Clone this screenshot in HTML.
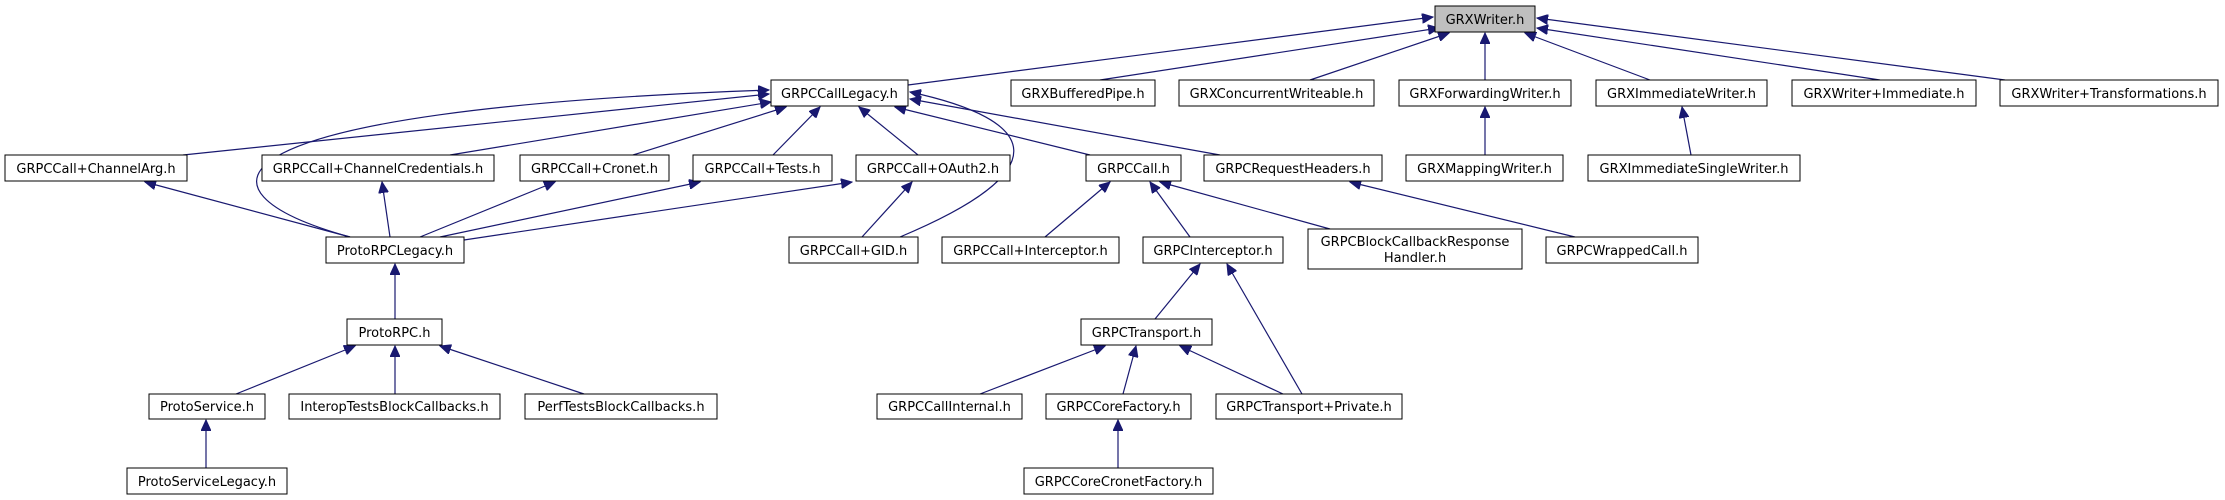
<!DOCTYPE html>
<html><head><meta charset="utf-8"><style>
html,body{margin:0;padding:0;background:#fff;}
svg{display:block;}
text{font-family:"DejaVu Sans","Liberation Sans",sans-serif;font-size:13px;fill:#000;text-anchor:middle;}
.n{fill:#fff;stroke:#000;stroke-width:1;}
.e{stroke:#191970;stroke-width:1.2;fill:none;}
</style></head><body>
<svg width="2225" height="500" viewBox="0 0 2225 500" xmlns="http://www.w3.org/2000/svg">
<defs><marker id="a" markerUnits="userSpaceOnUse" markerWidth="12" markerHeight="10" refX="11" refY="5" orient="auto"><path d="M0,0 L11,5 L0,10 z" fill="#191970" stroke="#191970"/></marker></defs>
<g marker-end="url(#a)">
<line class="e" x1="908" y1="85" x2="1433" y2="17"/>
<line class="e" x1="1100" y1="80" x2="1439" y2="28"/>
<line class="e" x1="1310" y1="80" x2="1449" y2="33"/>
<line class="e" x1="1485" y1="80" x2="1485" y2="33"/>
<line class="e" x1="1650" y1="80" x2="1525" y2="33"/>
<line class="e" x1="1880" y1="80" x2="1537" y2="28"/>
<line class="e" x1="2005" y1="80" x2="1537" y2="18"/>
<line class="e" x1="1485" y1="155" x2="1485" y2="107"/>
<line class="e" x1="1691" y1="155" x2="1682" y2="107"/>
<line class="e" x1="183" y1="155" x2="769" y2="94"/>
<line class="e" x1="450" y1="155" x2="771" y2="102"/>
<line class="e" x1="633" y1="155" x2="786" y2="107"/>
<line class="e" x1="773" y1="155" x2="820" y2="107"/>
<line class="e" x1="918" y1="155" x2="859" y2="107"/>
<line class="e" x1="1090" y1="155" x2="895" y2="107"/>
<line class="e" x1="1220" y1="155" x2="910" y2="99"/>
<path class="e" d="M350,237 C180,190 200,110 769,90"/>
<path class="e" d="M900,237 C1060,170 1040,120 910,92"/>
<line class="e" x1="350" y1="237" x2="145" y2="182"/>
<line class="e" x1="390" y1="237" x2="382" y2="182"/>
<line class="e" x1="420" y1="237" x2="555" y2="182"/>
<line class="e" x1="440" y1="237" x2="700" y2="182"/>
<line class="e" x1="464" y1="240" x2="852" y2="182"/>
<line class="e" x1="862" y1="237" x2="912" y2="182"/>
<line class="e" x1="1045" y1="237" x2="1110" y2="182"/>
<line class="e" x1="1190" y1="237" x2="1150" y2="182"/>
<line class="e" x1="1330" y1="229" x2="1160" y2="182"/>
<line class="e" x1="1575" y1="237" x2="1350" y2="182"/>
<line class="e" x1="1155" y1="319" x2="1200" y2="264"/>
<line class="e" x1="1302" y1="394" x2="1227" y2="264"/>
<line class="e" x1="980" y1="394" x2="1105" y2="346"/>
<line class="e" x1="1123" y1="394" x2="1136" y2="346"/>
<line class="e" x1="1283" y1="394" x2="1180" y2="346"/>
<line class="e" x1="1118" y1="468" x2="1118" y2="420"/>
<line class="e" x1="395" y1="319" x2="395" y2="264"/>
<line class="e" x1="236" y1="394" x2="355" y2="346"/>
<line class="e" x1="395" y1="394" x2="395" y2="346"/>
<line class="e" x1="584" y1="394" x2="440" y2="346"/>
<line class="e" x1="206" y1="468" x2="206" y2="420"/>
</g>
<rect x="1435" y="6" width="100" height="26" fill="#bfbfbf" stroke="#000"/><text x="1485" y="24">GRXWriter.h</text>
<rect class="n" x="771" y="80" width="137" height="26"/><text x="839.5" y="98">GRPCCallLegacy.h</text>
<rect class="n" x="1011" y="80" width="144" height="26"/><text x="1083" y="98">GRXBufferedPipe.h</text>
<rect class="n" x="1179" y="80" width="195" height="26"/><text x="1276.5" y="98">GRXConcurrentWriteable.h</text>
<rect class="n" x="1399" y="80" width="172" height="26"/><text x="1485" y="98">GRXForwardingWriter.h</text>
<rect class="n" x="1596" y="80" width="171" height="26"/><text x="1681.5" y="98">GRXImmediateWriter.h</text>
<rect class="n" x="1792" y="80" width="184" height="26"/><text x="1884" y="98">GRXWriter+Immediate.h</text>
<rect class="n" x="2000" y="80" width="218" height="26"/><text x="2109" y="98">GRXWriter+Transformations.h</text>
<rect class="n" x="5" y="155" width="182" height="26"/><text x="96" y="173">GRPCCall+ChannelArg.h</text>
<rect class="n" x="262" y="155" width="232" height="26"/><text x="378" y="173">GRPCCall+ChannelCredentials.h</text>
<rect class="n" x="520" y="155" width="149" height="26"/><text x="594.5" y="173">GRPCCall+Cronet.h</text>
<rect class="n" x="693" y="155" width="139" height="26"/><text x="762.5" y="173">GRPCCall+Tests.h</text>
<rect class="n" x="856" y="155" width="154" height="26"/><text x="933" y="173">GRPCCall+OAuth2.h</text>
<rect class="n" x="1086" y="155" width="95" height="26"/><text x="1133.5" y="173">GRPCCall.h</text>
<rect class="n" x="1204" y="155" width="178" height="26"/><text x="1293" y="173">GRPCRequestHeaders.h</text>
<rect class="n" x="1406" y="155" width="157" height="26"/><text x="1484.5" y="173">GRXMappingWriter.h</text>
<rect class="n" x="1588" y="155" width="212" height="26"/><text x="1694" y="173">GRXImmediateSingleWriter.h</text>
<rect class="n" x="326" y="237" width="138" height="26"/><text x="395" y="255">ProtoRPCLegacy.h</text>
<rect class="n" x="789" y="237" width="129" height="26"/><text x="853.5" y="255">GRPCCall+GID.h</text>
<rect class="n" x="942" y="237" width="177" height="26"/><text x="1030.5" y="255">GRPCCall+Interceptor.h</text>
<rect class="n" x="1143" y="237" width="140" height="26"/><text x="1213" y="255">GRPCInterceptor.h</text>
<rect class="n" x="1308" y="229" width="214" height="40"/><text x="1415" y="246">GRPCBlockCallbackResponse</text><text x="1415" y="262">Handler.h</text>
<rect class="n" x="1546" y="237" width="152" height="26"/><text x="1622" y="255">GRPCWrappedCall.h</text>
<rect class="n" x="347" y="319" width="95" height="26"/><text x="394.5" y="337">ProtoRPC.h</text>
<rect class="n" x="1081" y="319" width="131" height="26"/><text x="1146.5" y="337">GRPCTransport.h</text>
<rect class="n" x="149" y="394" width="116" height="25"/><text x="207" y="411">ProtoService.h</text>
<rect class="n" x="289" y="394" width="211" height="25"/><text x="394.5" y="411">InteropTestsBlockCallbacks.h</text>
<rect class="n" x="525" y="394" width="192" height="25"/><text x="621" y="411">PerfTestsBlockCallbacks.h</text>
<rect class="n" x="877" y="394" width="145" height="25"/><text x="949.5" y="411">GRPCCallInternal.h</text>
<rect class="n" x="1046" y="394" width="145" height="25"/><text x="1118.5" y="411">GRPCCoreFactory.h</text>
<rect class="n" x="1216" y="394" width="186" height="25"/><text x="1309" y="411">GRPCTransport+Private.h</text>
<rect class="n" x="127" y="468" width="160" height="26"/><text x="207" y="486">ProtoServiceLegacy.h</text>
<rect class="n" x="1024" y="468" width="189" height="26"/><text x="1118.5" y="486">GRPCCoreCronetFactory.h</text>
</svg>
</body></html>
